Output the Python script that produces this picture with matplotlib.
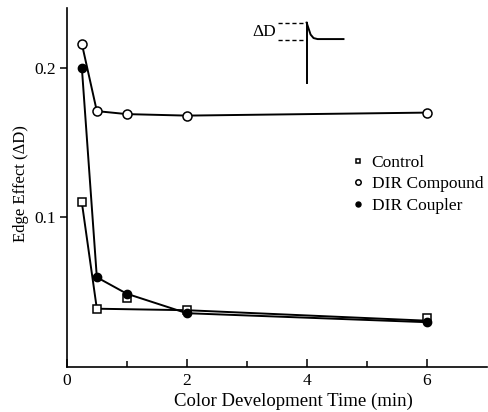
import matplotlib.pyplot as plt
import matplotlib.ticker as ticker

plt.rcParams.update({
    'font.family': ['Liberation Serif', 'DejaVu Serif'],
    'font.size': 12,
    'axes.linewidth': 1.2,
})

# data
time = [0.25, 0.5, 1, 2, 6]
control = [0.110, 0.039, 0.046, 0.038, 0.033]
dir_compound = [0.216, 0.171, 0.169, 0.168, 0.170]
dir_coupler = [0.200, 0.060, 0.049, 0.036, 0.030]

# control curve skips the 1-min point (it sits on the coupler curve)
control_line_t = [0.25, 0.5, 2, 6]
control_line_v = [0.110, 0.039, 0.038, 0.031]

fig = plt.figure(figsize=(4.88, 4.12), dpi=100)
ax = fig.add_axes([0.137, 0.109, 0.86, 0.872])

ax.plot(control_line_t, control_line_v, color='black', lw=1.4, zorder=2)
ax.plot(time, dir_coupler, color='black', lw=1.4, zorder=2)
ax.plot(time, dir_compound, color='black', lw=1.4, zorder=2)

ax.plot(time, control, ls='none', marker='s', ms=6, mfc='white', mec='black',
        mew=1.1, label='Control', zorder=3)
ax.plot(time, dir_compound, ls='none', marker='o', ms=6.5, mfc='white', mec='black',
        mew=1.1, label='DIR Compound', zorder=3)
ax.plot(time, dir_coupler, ls='none', marker='o', ms=6, mfc='black', mec='black',
        label='DIR Coupler', zorder=3)

ax.set_xlim(0, 7)
ax.set_ylim(0, 0.24)
ax.spines['top'].set_visible(False)
ax.spines['right'].set_visible(False)

ax.xaxis.set_major_locator(ticker.FixedLocator([0, 2, 4, 6]))
ax.xaxis.set_minor_locator(ticker.FixedLocator([1, 3, 5]))
ax.xaxis.set_major_formatter(ticker.FormatStrFormatter('%d'))
ax.tick_params(axis='x', which='major', direction='in', length=6, width=1.1, pad=4,
               labelsize=12.5)
ax.tick_params(axis='x', which='minor', direction='in', length=4, width=1.1)
ax.yaxis.set_major_locator(ticker.FixedLocator([0.1, 0.2]))
ax.yaxis.set_major_formatter(ticker.FormatStrFormatter('%.1f'))
ax.tick_params(axis='y', direction='out', length=5, width=1.1, pad=3, labelsize=12.5)

ax.set_xlabel('Color Development Time (min)', fontsize=13.5, va='baseline')
ax.xaxis.set_label_coords(0.54, -0.109)
ax.set_ylabel('Edge Effect (ΔD)', fontsize=12)
ax.yaxis.set_label_coords(-0.09, 0.51)

leg = ax.legend(loc='upper left', bbox_to_anchor=(0.66, 0.615), frameon=False,
                handlelength=0.6, handletextpad=0.5, labelspacing=0.3,
                markerscale=0.6, borderpad=0, fontsize=12.5)

# inset sketch of the edge profile
ins = fig.add_axes([0.520, 0.790, 0.190, 0.160])
ins.set_xlim(253, 346)
ins.set_ylim(86, 20)
ins.axis('off')
ins.plot([277, 306], [22, 22], color='black', lw=1, ls=(0, (3, 2)))
ins.plot([277, 306], [39, 39], color='black', lw=1, ls=(0, (3, 2)))
ins.plot([306, 306], [22, 82], color='black', lw=1.4)
ins.plot([306, 308, 310, 313, 317, 343], [22, 28, 34, 37.5, 38.5, 38.5],
         color='black', lw=1.4)
ins.text(275, 31, 'ΔD', ha='right', va='center', fontsize=12.5)

fig.savefig('out.png', dpi=100)
